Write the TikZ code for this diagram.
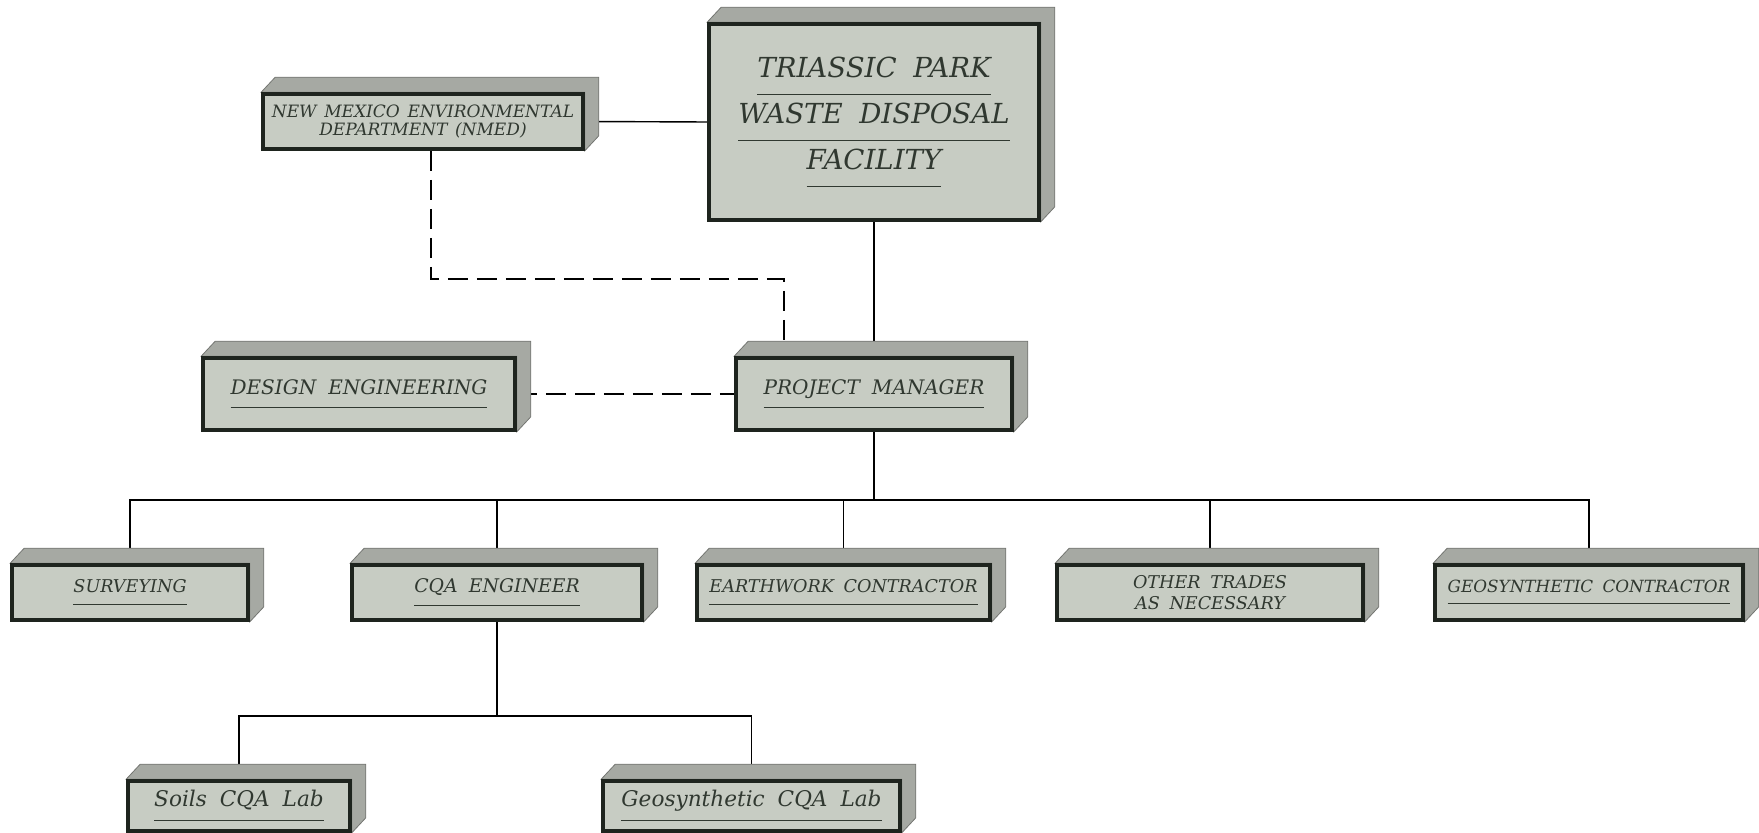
\documentclass[tikz,border=0pt]{standalone}
\usepackage{fontspec}
\setmainfont{DejaVu Serif}
\usetikzlibrary{backgrounds}
\definecolor{faceclr}{RGB}{199,204,195}
\definecolor{sideclr}{RGB}{166,169,163}
\definecolor{edgeclr}{RGB}{30,36,30}
\definecolor{inkclr}{RGB}{48,56,48}
\newcommand\ul[1]{\underline{#1\vrule depth 0.5em width 0pt}}
\newcommand\widesp[1]{\spaceskip=#1\relax}

\begin{document}
\begin{tikzpicture}[x=0.5pt,y=-0.5pt,
  block/.style={draw=edgeclr,line width=1.8pt,fill=faceclr,inner sep=0pt,
    text=inkclr,align=center,font=\itshape\fontsize{8.8}{10.5}\selectfont\widesp{0.55em}},
  face3d/.style={fill=sideclr,draw=sideclr!70!black,line width=0.4pt},
  link/.style={line width=0.7pt},
  dashlink/.style={line width=0.7pt,dash pattern=on 10pt off 4.5pt}]
 \useasboundingbox (0,0) rectangle (1759,833);
 \node[block,minimum width=165pt,minimum height=98pt,
   font=\itshape\fontsize{13.8}{23}\selectfont\widesp{0.6em}] (tp) at (874,122)
   {\ul{TRIASSIC PARK}\\\ul{WASTE DISPOSAL}\\\ul{FACILITY}};
 \node[block,minimum width=160pt,minimum height=27.5pt,
   font=\itshape\fontsize{8.5}{8.8}\selectfont\widesp{0.45em}] (nmed) at (423,121.5)
   {NEW MEXICO ENVIRONMENTAL\\DEPARTMENT (NMED)};
 \node[block,minimum width=156pt,minimum height=36pt,
   font=\itshape\fontsize{10}{12}\selectfont\widesp{0.6em}] (design) at (359,394) {\ul{DESIGN ENGINEERING}};
 \node[block,minimum width=138pt,minimum height=36pt,
   font=\itshape\fontsize{10}{12}\selectfont\widesp{0.6em}] (pm) at (874,394) {\ul{PROJECT MANAGER}};
 \node[block,minimum width=118pt,minimum height=27.5pt] (surv) at (130,592.5) {\ul{SURVEYING}};
 \node[block,minimum width=145pt,minimum height=27.5pt,
   font=\itshape\fontsize{9.4}{10.5}\selectfont\widesp{0.6em}] (cqa) at (497,592.5) {\ul{CQA ENGINEER}};
 \node[block,minimum width=146.5pt,minimum height=27.5pt] (earth) at (843.5,592.5) {\ul{EARTHWORK CONTRACTOR}};
 \node[block,minimum width=153pt,minimum height=27.5pt] (other) at (1210,592.5) {OTHER TRADES\\AS NECESSARY};
 \node[block,minimum width=154pt,minimum height=27.5pt,
   font=\itshape\fontsize{8.4}{10.5}\selectfont\widesp{0.55em}] (geoc) at (1589,592.5) {\ul{GEOSYNTHETIC CONTRACTOR}};
 \node[block,minimum width=111pt,minimum height=25pt,
   font=\itshape\fontsize{10.8}{12}\selectfont\widesp{0.6em}] (soils) at (239,806) {\ul{Soils CQA Lab}};
 \node[block,minimum width=148.5pt,minimum height=25pt,
   font=\itshape\fontsize{10.8}{12}\selectfont\widesp{0.6em}] (geolab) at (751.5,806) {\ul{Geosynthetic CQA Lab}};
 \coordinate (nmedturn) at (784,279);
 \coordinate (bus) at (0,500);
 \coordinate (labbus) at (0,716);
 \begin{pgfonlayer}{background}
  \draw[link] (nmed.east) -- (tp.west);
  \draw[link] (tp.south) -- (pm.north);
  \draw[dashlink] ([xshift=4pt]nmed.south) |- (nmedturn) -- (nmedturn |- pm.north);
  \draw[dashlink] (design.east) -- (pm.west);
  \foreach \n in {surv,cqa,earth,other,geoc}
   \draw[link] (pm.south) -- (pm.south |- bus) -| (\n.north);
  \foreach \n in {soils,geolab}
   \draw[link] (cqa.south) -- (cqa.south |- labbus) -| (\n.north);
  % top and right faces of the blocks
  \foreach \n in {tp,nmed,design,pm,surv,cqa,earth,other,geoc,soils,geolab}
   \draw[face3d] (\n.north west) -- ++(14,-15) -| ([shift={(14,-15)}]\n.south east)
     -- (\n.south east) -- (\n.north east) -- cycle;
 \end{pgfonlayer}
\end{tikzpicture}
\end{document}
